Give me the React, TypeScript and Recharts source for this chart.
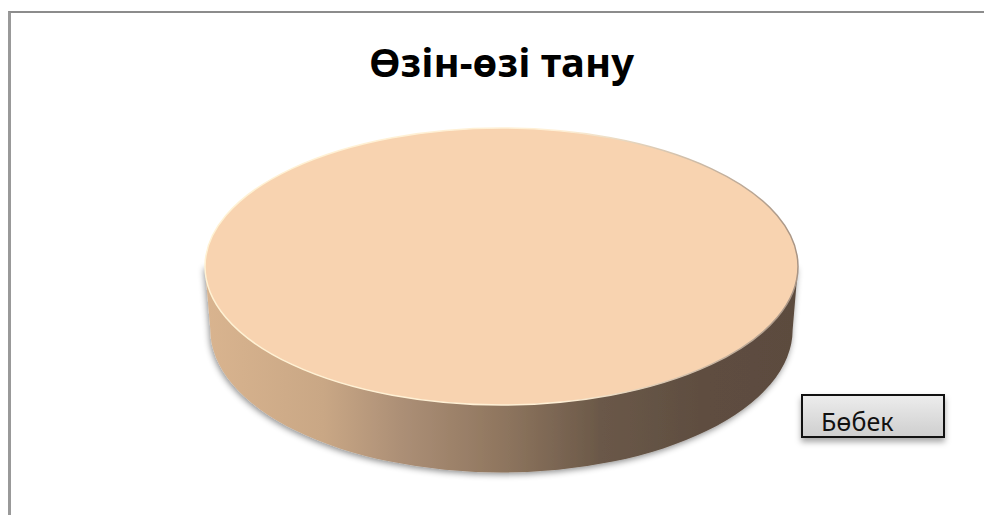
import React from 'react';
import { PieChart, Pie, Legend } from 'recharts';

const chartTitle = 'Өзін-өзі тану';
const categories = ['Бөбек'];
const seriesValues = [100];

const pieData = categories.map((name, i) => ({ name, value: seriesValues[i] }));

const TILT = 138.5 / 296.5;
const DEPTH = 63;
const BASE_SHRINK = 0.982;
const BASE_RY = 143;

// the pie has one slice only, so it is drawn as a tilted disc
const DiscSlice = (props: any) => {
  const { cx, cy, outerRadius } = props;
  const ry = outerRadius * TILT;
  const baseR = outerRadius * BASE_SHRINK;
  const side = `M${cx - outerRadius},${cy} L${cx - baseR},${cy + DEPTH} A${baseR},${BASE_RY} 0 0 0 ${cx + baseR},${cy + DEPTH} L${cx + outerRadius},${cy} Z`;
  return (
    <g>
      <path d={side} fill="url(#discSide)" filter="url(#discShadow)" />
      <ellipse cx={cx} cy={cy} rx={outerRadius} ry={ry} fill="#f8d3b0" stroke="url(#discRim)" strokeWidth={1.5} />
    </g>
  );
};

const LegendBox = ({ payload }: any) => (
  <div
    style={{
      width: 140,
      height: 40,
      overflow: 'hidden',
      boxSizing: 'content-box',
      border: '2px solid #111',
      background: 'linear-gradient(#ececec, #cfcfcf)',
      boxShadow: '0px 4px 6px rgba(0,0,0,0.35)',
      fontFamily: '"Noto Sans", sans-serif',
      fontSize: 25,
      lineHeight: '30px',
      color: '#111',
    }}
  >
    {payload.map((item: any) => (
      <div key={item.value} style={{ marginLeft: 18, marginTop: 10 }}>
        {item.value}
      </div>
    ))}
  </div>
);

export default function App() {
  return (
    <div style={{ position: 'absolute', left: 0, top: 0, width: 984, height: 515, background: '#fff' }}>
      <PieChart
        width={984}
        height={515}
        margin={{ top: 0, right: 0, bottom: 0, left: 0 }}
        style={{ position: 'absolute', left: 0, top: 0 }}
      >
        <defs>
          <linearGradient id="discSide" x1="0" y1="0" x2="1" y2="0">
            <stop offset="0%" stopColor="#d9b48f" />
            <stop offset="20%" stopColor="#c9a785" />
            <stop offset="33%" stopColor="#ac8f76" />
            <stop offset="50%" stopColor="#8f765f" />
            <stop offset="67%" stopColor="#6a5848" />
            <stop offset="85%" stopColor="#5e4d40" />
            <stop offset="100%" stopColor="#5c4b3e" />
          </linearGradient>
          <linearGradient id="discRim" x1="0" y1="0" x2="1" y2="0">
            <stop offset="0%" stopColor="#fff2d4" />
            <stop offset="60%" stopColor="#fff0d6" />
            <stop offset="100%" stopColor="#a89484" />
          </linearGradient>
          <filter id="discShadow" x="-5%" y="-5%" width="110%" height="115%">
            <feDropShadow dx={-1} dy={2} stdDeviation={3} floodColor="#000" floodOpacity={0.45} />
          </filter>
        </defs>
        <text
          x={501.5}
          y={77}
          textAnchor="middle"
          fontFamily='"Noto Sans", sans-serif'
          fontWeight={700}
          fontSize={40}
          fill="#000"
        >
          {chartTitle}
        </text>
        <Pie
          data={pieData}
          dataKey="value"
          nameKey="name"
          cx={501.5}
          cy={266.5}
          outerRadius={296.5}
          startAngle={90}
          endAngle={-270}
          stroke="none"
          isAnimationActive={false}
          shape={DiscSlice}
        />
        <Legend
          content={LegendBox}
          layout="vertical"
          wrapperStyle={{ position: 'absolute', left: 801, top: 394, width: 144, bottom: 'auto' }}
        />
      </PieChart>
      <div
        style={{
          position: 'absolute',
          left: 8,
          top: 11,
          width: 976,
          height: 504,
          borderTop: '2px solid #8c8c8c',
          borderLeft: '3px solid #999',
          boxSizing: 'border-box',
          pointerEvents: 'none',
        }}
      />
    </div>
  );
}
